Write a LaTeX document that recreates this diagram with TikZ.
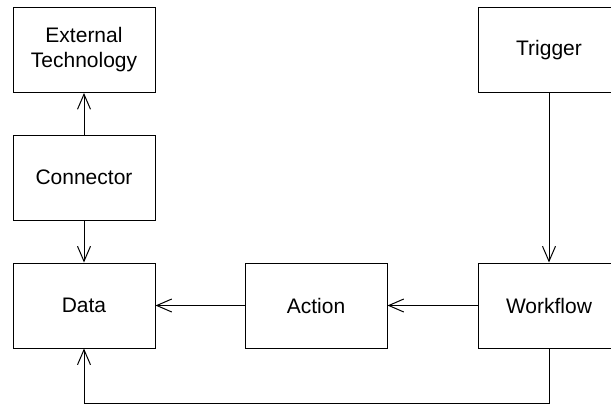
\documentclass[tikz,border=0pt]{standalone}
\usepackage{fontspec}
\setmainfont{Liberation Sans}
\usetikzlibrary{arrows.meta}
\begin{document}
\begin{tikzpicture}[x=1pt,y=-1pt,
  box/.style={draw,line width=1pt,minimum width=142pt,minimum height=85pt,inner sep=0pt,align=center,font=\fontsize{21}{25}\selectfont},
  conn/.style={line width=1pt,-{Straight Barb[length=15pt,width=13pt,line width=1pt]}}]
\useasboundingbox (0,0) rectangle (611,405);
\node[box] (ext) at (84,50) {External\\Technology};
\node[box] (con) at (84,177.5) {Connector};
\node[box] (data) at (84,305.5) {Data};
\node[box] (act) at (316,305.5) {Action};
\node[box] (wf) at (549,305.5) {Workflow};
\node[box] (trig) at (549,50) {Trigger};
\coordinate (c1) at (549,403);
\coordinate (c2) at (84,403);
\draw[conn] (con) -- (ext);
\draw[conn] (con) -- (data);
\draw[conn] (trig) -- (wf);
\draw[conn] (wf) -- (act);
\draw[conn] (act) -- (data);
\draw[conn] (wf.south) -- (c1) -- (c2) -- (data.south);
\end{tikzpicture}
\end{document}
